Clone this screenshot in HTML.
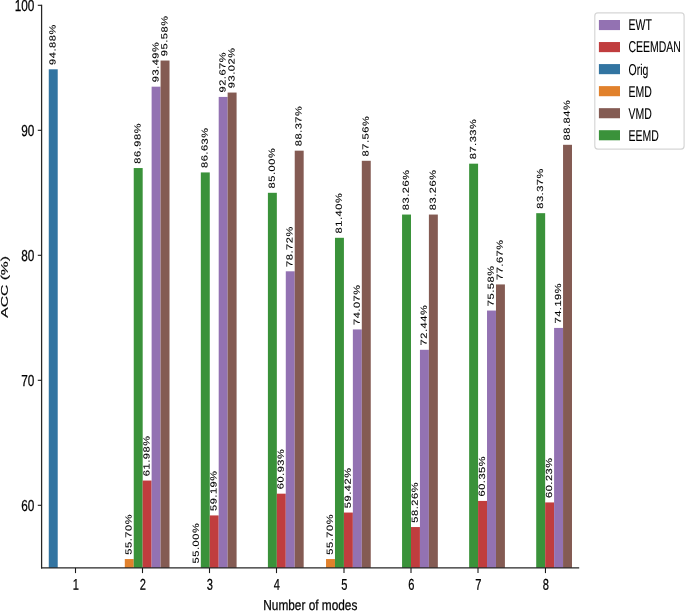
<!DOCTYPE html><html><head><meta charset="utf-8"><style>html,body{margin:0;padding:0;background:#fff;width:685px;height:611px;overflow:hidden}svg{display:block;will-change:transform;}text{text-rendering:geometricPrecision;font-family:"Liberation Sans",sans-serif;fill:#000;stroke:#000;stroke-width:0.25px}</style></head><body>
<svg width="685" height="611" viewBox="0 0 685 611">
<rect x="48.77" y="69.30" width="8.94" height="498.60" fill="#3274a1"/>
<rect x="124.79" y="559.05" width="8.94" height="8.85" fill="#e1812c"/>
<rect x="133.74" y="168.05" width="8.94" height="399.85" fill="#3a923a"/>
<rect x="142.68" y="480.55" width="8.94" height="87.35" fill="#c03d3e"/>
<rect x="151.62" y="86.68" width="8.94" height="481.22" fill="#9372b2"/>
<rect x="160.57" y="60.55" width="8.94" height="507.35" fill="#845b53"/>
<rect x="191.87" y="567.80" width="8.94" height="0.10" fill="#e1812c"/>
<rect x="200.82" y="172.43" width="8.94" height="395.47" fill="#3a923a"/>
<rect x="209.76" y="515.42" width="8.94" height="52.48" fill="#c03d3e"/>
<rect x="218.70" y="96.92" width="8.94" height="470.98" fill="#9372b2"/>
<rect x="227.65" y="92.55" width="8.94" height="475.35" fill="#845b53"/>
<rect x="267.90" y="192.80" width="8.94" height="375.10" fill="#3a923a"/>
<rect x="276.84" y="493.68" width="8.94" height="74.22" fill="#c03d3e"/>
<rect x="285.78" y="271.30" width="8.94" height="296.60" fill="#9372b2"/>
<rect x="294.73" y="150.67" width="8.94" height="417.23" fill="#845b53"/>
<rect x="326.03" y="559.05" width="8.94" height="8.85" fill="#e1812c"/>
<rect x="334.98" y="237.80" width="8.94" height="330.10" fill="#3a923a"/>
<rect x="343.92" y="512.55" width="8.94" height="55.35" fill="#c03d3e"/>
<rect x="352.86" y="329.43" width="8.94" height="238.47" fill="#9372b2"/>
<rect x="361.81" y="160.80" width="8.94" height="407.10" fill="#845b53"/>
<rect x="402.06" y="214.55" width="8.94" height="353.35" fill="#3a923a"/>
<rect x="411.00" y="527.05" width="8.94" height="40.85" fill="#c03d3e"/>
<rect x="419.94" y="349.80" width="8.94" height="218.10" fill="#9372b2"/>
<rect x="428.89" y="214.55" width="8.94" height="353.35" fill="#845b53"/>
<rect x="469.14" y="163.68" width="8.94" height="404.22" fill="#3a923a"/>
<rect x="478.08" y="500.93" width="8.94" height="66.97" fill="#c03d3e"/>
<rect x="487.02" y="310.55" width="8.94" height="257.35" fill="#9372b2"/>
<rect x="495.97" y="284.43" width="8.94" height="283.47" fill="#845b53"/>
<rect x="536.22" y="213.17" width="8.94" height="354.73" fill="#3a923a"/>
<rect x="545.16" y="502.43" width="8.94" height="65.47" fill="#c03d3e"/>
<rect x="554.10" y="327.93" width="8.94" height="239.97" fill="#9372b2"/>
<rect x="563.05" y="144.80" width="8.94" height="423.10" fill="#845b53"/>
<text transform="translate(55.54,64.90) rotate(-89.9) scale(1,0.8)" font-size="11.0" letter-spacing="0.55" style="stroke-width:0.15px">94.88%</text>
<text transform="translate(131.56,554.65) rotate(-89.9) scale(1,0.8)" font-size="11.0" letter-spacing="0.55" style="stroke-width:0.15px">55.70%</text>
<text transform="translate(140.51,163.65) rotate(-89.9) scale(1,0.8)" font-size="11.0" letter-spacing="0.55" style="stroke-width:0.15px">86.98%</text>
<text transform="translate(149.45,476.15) rotate(-89.9) scale(1,0.8)" font-size="11.0" letter-spacing="0.55" style="stroke-width:0.15px">61.98%</text>
<text transform="translate(158.40,82.28) rotate(-89.9) scale(1,0.8)" font-size="11.0" letter-spacing="0.55" style="stroke-width:0.15px">93.49%</text>
<text transform="translate(167.34,56.15) rotate(-89.9) scale(1,0.8)" font-size="11.0" letter-spacing="0.55" style="stroke-width:0.15px">95.58%</text>
<text transform="translate(198.64,563.40) rotate(-89.9) scale(1,0.8)" font-size="11.0" letter-spacing="0.55" style="stroke-width:0.15px">55.00%</text>
<text transform="translate(207.59,168.03) rotate(-89.9) scale(1,0.8)" font-size="11.0" letter-spacing="0.55" style="stroke-width:0.15px">86.63%</text>
<text transform="translate(216.53,511.02) rotate(-89.9) scale(1,0.8)" font-size="11.0" letter-spacing="0.55" style="stroke-width:0.15px">59.19%</text>
<text transform="translate(225.48,92.52) rotate(-89.9) scale(1,0.8)" font-size="11.0" letter-spacing="0.55" style="stroke-width:0.15px">92.67%</text>
<text transform="translate(234.42,88.15) rotate(-89.9) scale(1,0.8)" font-size="11.0" letter-spacing="0.55" style="stroke-width:0.15px">93.02%</text>
<text transform="translate(274.67,188.40) rotate(-89.9) scale(1,0.8)" font-size="11.0" letter-spacing="0.55" style="stroke-width:0.15px">85.00%</text>
<text transform="translate(283.61,489.28) rotate(-89.9) scale(1,0.8)" font-size="11.0" letter-spacing="0.55" style="stroke-width:0.15px">60.93%</text>
<text transform="translate(292.56,266.90) rotate(-89.9) scale(1,0.8)" font-size="11.0" letter-spacing="0.55" style="stroke-width:0.15px">78.72%</text>
<text transform="translate(301.50,146.27) rotate(-89.9) scale(1,0.8)" font-size="11.0" letter-spacing="0.55" style="stroke-width:0.15px">88.37%</text>
<text transform="translate(332.80,554.65) rotate(-89.9) scale(1,0.8)" font-size="11.0" letter-spacing="0.55" style="stroke-width:0.15px">55.70%</text>
<text transform="translate(341.75,233.40) rotate(-89.9) scale(1,0.8)" font-size="11.0" letter-spacing="0.55" style="stroke-width:0.15px">81.40%</text>
<text transform="translate(350.69,508.15) rotate(-89.9) scale(1,0.8)" font-size="11.0" letter-spacing="0.55" style="stroke-width:0.15px">59.42%</text>
<text transform="translate(359.64,325.03) rotate(-89.9) scale(1,0.8)" font-size="11.0" letter-spacing="0.55" style="stroke-width:0.15px">74.07%</text>
<text transform="translate(368.58,156.40) rotate(-89.9) scale(1,0.8)" font-size="11.0" letter-spacing="0.55" style="stroke-width:0.15px">87.56%</text>
<text transform="translate(408.83,210.15) rotate(-89.9) scale(1,0.8)" font-size="11.0" letter-spacing="0.55" style="stroke-width:0.15px">83.26%</text>
<text transform="translate(417.77,522.65) rotate(-89.9) scale(1,0.8)" font-size="11.0" letter-spacing="0.55" style="stroke-width:0.15px">58.26%</text>
<text transform="translate(426.72,345.40) rotate(-89.9) scale(1,0.8)" font-size="11.0" letter-spacing="0.55" style="stroke-width:0.15px">72.44%</text>
<text transform="translate(435.66,210.15) rotate(-89.9) scale(1,0.8)" font-size="11.0" letter-spacing="0.55" style="stroke-width:0.15px">83.26%</text>
<text transform="translate(475.91,159.28) rotate(-89.9) scale(1,0.8)" font-size="11.0" letter-spacing="0.55" style="stroke-width:0.15px">87.33%</text>
<text transform="translate(484.85,496.53) rotate(-89.9) scale(1,0.8)" font-size="11.0" letter-spacing="0.55" style="stroke-width:0.15px">60.35%</text>
<text transform="translate(493.80,306.15) rotate(-89.9) scale(1,0.8)" font-size="11.0" letter-spacing="0.55" style="stroke-width:0.15px">75.58%</text>
<text transform="translate(502.74,280.03) rotate(-89.9) scale(1,0.8)" font-size="11.0" letter-spacing="0.55" style="stroke-width:0.15px">77.67%</text>
<text transform="translate(542.99,208.77) rotate(-89.9) scale(1,0.8)" font-size="11.0" letter-spacing="0.55" style="stroke-width:0.15px">83.37%</text>
<text transform="translate(551.93,498.03) rotate(-89.9) scale(1,0.8)" font-size="11.0" letter-spacing="0.55" style="stroke-width:0.15px">60.23%</text>
<text transform="translate(560.88,323.53) rotate(-89.9) scale(1,0.8)" font-size="11.0" letter-spacing="0.55" style="stroke-width:0.15px">74.19%</text>
<text transform="translate(569.82,140.40) rotate(-89.9) scale(1,0.8)" font-size="11.0" letter-spacing="0.55" style="stroke-width:0.15px">88.84%</text>
<line x1="41.6" y1="4.8" x2="41.6" y2="568.4" stroke="#262626" stroke-width="1.25"/>
<line x1="41.0" y1="567.9" x2="579.2" y2="567.9" stroke="#262626" stroke-width="1.25"/>
<line x1="37.800000000000004" y1="505.30" x2="41.6" y2="505.30" stroke="#1a1a1a" stroke-width="1.1"/>
<line x1="37.800000000000004" y1="380.30" x2="41.6" y2="380.30" stroke="#1a1a1a" stroke-width="1.1"/>
<line x1="37.800000000000004" y1="255.30" x2="41.6" y2="255.30" stroke="#1a1a1a" stroke-width="1.1"/>
<line x1="37.800000000000004" y1="130.30" x2="41.6" y2="130.30" stroke="#1a1a1a" stroke-width="1.1"/>
<line x1="37.800000000000004" y1="5.30" x2="41.6" y2="5.30" stroke="#1a1a1a" stroke-width="1.1"/>
<line x1="75.50" y1="567.9" x2="75.50" y2="573.1" stroke="#1a1a1a" stroke-width="1.1"/>
<line x1="142.50" y1="567.9" x2="142.50" y2="573.1" stroke="#1a1a1a" stroke-width="1.1"/>
<line x1="209.50" y1="567.9" x2="209.50" y2="573.1" stroke="#1a1a1a" stroke-width="1.1"/>
<line x1="276.50" y1="567.9" x2="276.50" y2="573.1" stroke="#1a1a1a" stroke-width="1.1"/>
<line x1="344.00" y1="567.9" x2="344.00" y2="573.1" stroke="#1a1a1a" stroke-width="1.1"/>
<line x1="411.00" y1="567.9" x2="411.00" y2="573.1" stroke="#1a1a1a" stroke-width="1.1"/>
<line x1="478.00" y1="567.9" x2="478.00" y2="573.1" stroke="#1a1a1a" stroke-width="1.1"/>
<line x1="545.46" y1="567.9" x2="545.46" y2="573.1" stroke="#1a1a1a" stroke-width="1.1"/>
<text transform="translate(34.4,511.00) rotate(0.1) scale(0.77,1.04)" font-size="15.3" text-anchor="end">60</text>
<text transform="translate(34.4,386.00) rotate(0.1) scale(0.77,1.04)" font-size="15.3" text-anchor="end">70</text>
<text transform="translate(34.4,261.00) rotate(0.1) scale(0.77,1.04)" font-size="15.3" text-anchor="end">80</text>
<text transform="translate(34.4,136.00) rotate(0.1) scale(0.77,1.04)" font-size="15.3" text-anchor="end">90</text>
<text transform="translate(34.4,11.00) rotate(0.1) scale(0.77,1.04)" font-size="15.3" text-anchor="end">100</text>
<text transform="translate(75.80,589.7) rotate(0.1) scale(0.71,1.0)" font-size="15.6" text-anchor="middle">1</text>
<text transform="translate(142.80,589.7) rotate(0.1) scale(0.71,1.0)" font-size="15.6" text-anchor="middle">2</text>
<text transform="translate(209.80,589.7) rotate(0.1) scale(0.71,1.0)" font-size="15.6" text-anchor="middle">3</text>
<text transform="translate(276.80,589.7) rotate(0.1) scale(0.71,1.0)" font-size="15.6" text-anchor="middle">4</text>
<text transform="translate(344.30,589.7) rotate(0.1) scale(0.71,1.0)" font-size="15.6" text-anchor="middle">5</text>
<text transform="translate(411.30,589.7) rotate(0.1) scale(0.71,1.0)" font-size="15.6" text-anchor="middle">6</text>
<text transform="translate(478.30,589.7) rotate(0.1) scale(0.71,1.0)" font-size="15.6" text-anchor="middle">7</text>
<text transform="translate(545.76,589.7) rotate(0.1) scale(0.71,1.0)" font-size="15.6" text-anchor="middle">8</text>
<text transform="translate(310.3,609.6) scale(0.8165,1)" font-size="14.5" text-anchor="middle">Number of modes</text>
<text transform="translate(7.76,286.9) rotate(-89.9) scale(1,0.62)" font-size="15.7" text-anchor="middle">ACC (%)</text>
<rect x="594.8" y="12.9" width="89.3" height="136.2" rx="3" ry="3" fill="#fff" stroke="#d6d6d6" stroke-width="1.2"/>
<rect x="598.9" y="20.00" width="21.1" height="10.1" fill="#9372b2"/>
<text transform="translate(628.5,30.45) scale(0.672,1)" font-size="15.6" style="stroke-width:0.12px">EWT</text>
<rect x="598.9" y="42.04" width="21.1" height="10.1" fill="#c03d3e"/>
<text transform="translate(628.5,52.49) scale(0.672,1)" font-size="15.6" style="stroke-width:0.12px">CEEMDAN</text>
<rect x="598.9" y="64.08" width="21.1" height="10.1" fill="#3274a1"/>
<text transform="translate(628.5,74.53) scale(0.672,1)" font-size="15.6" style="stroke-width:0.12px">Orig</text>
<rect x="598.9" y="86.12" width="21.1" height="10.1" fill="#e1812c"/>
<text transform="translate(628.5,96.57) scale(0.672,1)" font-size="15.6" style="stroke-width:0.12px">EMD</text>
<rect x="598.9" y="108.16" width="21.1" height="10.1" fill="#845b53"/>
<text transform="translate(628.5,118.61) scale(0.672,1)" font-size="15.6" style="stroke-width:0.12px">VMD</text>
<rect x="598.9" y="130.20" width="21.1" height="10.1" fill="#3a923a"/>
<text transform="translate(628.5,140.65) scale(0.672,1)" font-size="15.6" style="stroke-width:0.12px">EEMD</text>
</svg></body></html>
